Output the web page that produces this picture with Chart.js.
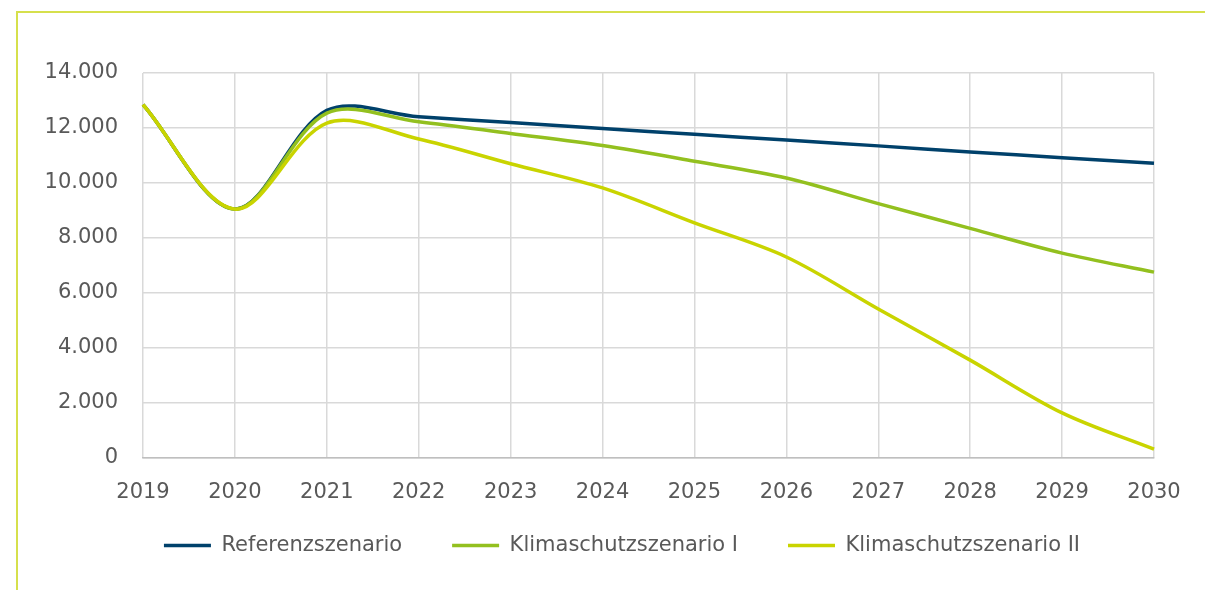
<!DOCTYPE html>
<html>
<head>
<meta charset="utf-8">
<script src="https://cdn.jsdelivr.net/npm/chart.js@4.4.0/dist/chart.umd.min.js"></script>
<style>
  html, body { margin: 0; padding: 0; background: #fff; }
  #wrap { position: relative; width: 1205px; height: 590px; overflow: hidden; }
  #frame { position: absolute; left: 16px; top: 11px; width: 1200px; height: 600px;
           border-top: 2px solid #d6e04c; border-left: 2px solid #d6e04c; box-sizing: border-box; }
  canvas { position: absolute; left: 0; top: 0; }
</style>
</head>
<body>
<div id="wrap">
  <div id="frame"></div>
  <canvas id="c" width="1205" height="590"></canvas>
</div>
<script>
const years = ['2019','2020','2021','2022','2023','2024','2025','2026','2027','2028','2029','2030'];
const referenz = [12850, 9050, 12640, 12410, 12200, 11980, 11770, 11560, 11350, 11130, 10920, 10720];
const klima1   = [12850, 9050, 12540, 12230, 11800, 11360, 10790, 10180, 9250, 8350, 7450, 6760];
const klima2   = [12850, 9050, 12180, 11600, 10700, 9820, 8550, 7310, 5420, 3560, 1640, 320];
const yTicks = [0, 2000, 4000, 6000, 8000, 10000, 12000, 14000];
const seriesNames = ['Referenzszenario', 'Klimaschutzszenario I', 'Klimaschutzszenario II'];
const seriesColors = ['#00416b', '#93c01f', '#c9d400'];

const fmt = v => v === 0 ? '0' : v.toLocaleString('de-DE');
const FONT = 'DejaVu Sans';

const shiftLegend = {
  id: 'shiftLegend',
  afterLayout(chart) {
    const lg = chart.legend;
    if (lg) { lg.left += 45; lg.right += 45; lg.top -= 31; }
  }
};

new Chart(document.getElementById('c'), {
  type: 'line',
  data: {
    labels: years,
    datasets: [referenz, klima1, klima2].map((d, i) => ({
      label: seriesNames[i],
      data: d,
      borderColor: seriesColors[i],
      backgroundColor: seriesColors[i],
      borderWidth: 3.5,
      pointRadius: 0,
      tension: 0.33,
      fill: false,
      order: 2 - i
    }))
  },
  plugins: [shiftLegend],
  options: {
    responsive: false,
    animation: false,
    events: [],
    layout: { padding: { left: 0, right: 51, top: 73, bottom: 24 } },
    plugins: {
      tooltip: { enabled: false },
      legend: {
        position: 'bottom',
        maxHeight: 50,
        labels: {
          sort: (a, b) => a.datasetIndex - b.datasetIndex,
          boxWidth: 47,
          boxHeight: 0,
          padding: 50,
          color: '#595959',
          font: { family: FONT, size: 21 }
        }
      }
    },
    scales: {
      x: {
        offset: false,
        grid: { color: '#d9d9d9', lineWidth: 1.5, drawTicks: false },
        border: { color: '#bfbfbf', width: 1.5 },
        ticks: { color: '#595959', font: { family: FONT, size: 21 }, padding: 22, maxRotation: 0, autoSkip: false },
        afterFit: s => { s.height = 58; }
      },
      y: {
        min: 0, max: 14000,
        afterBuildTicks: s => { s.ticks = yTicks.map(v => ({ value: v })); },
        grid: { color: '#d9d9d9', lineWidth: 1.5, drawTicks: false },
        border: { display: false },
        ticks: { color: '#595959', font: { family: FONT, size: 21 }, padding: 25, callback: v => fmt(v) },
        afterFit: s => { s.width = 143; }
      }
    }
  }
});
</script>
</body>
</html>
